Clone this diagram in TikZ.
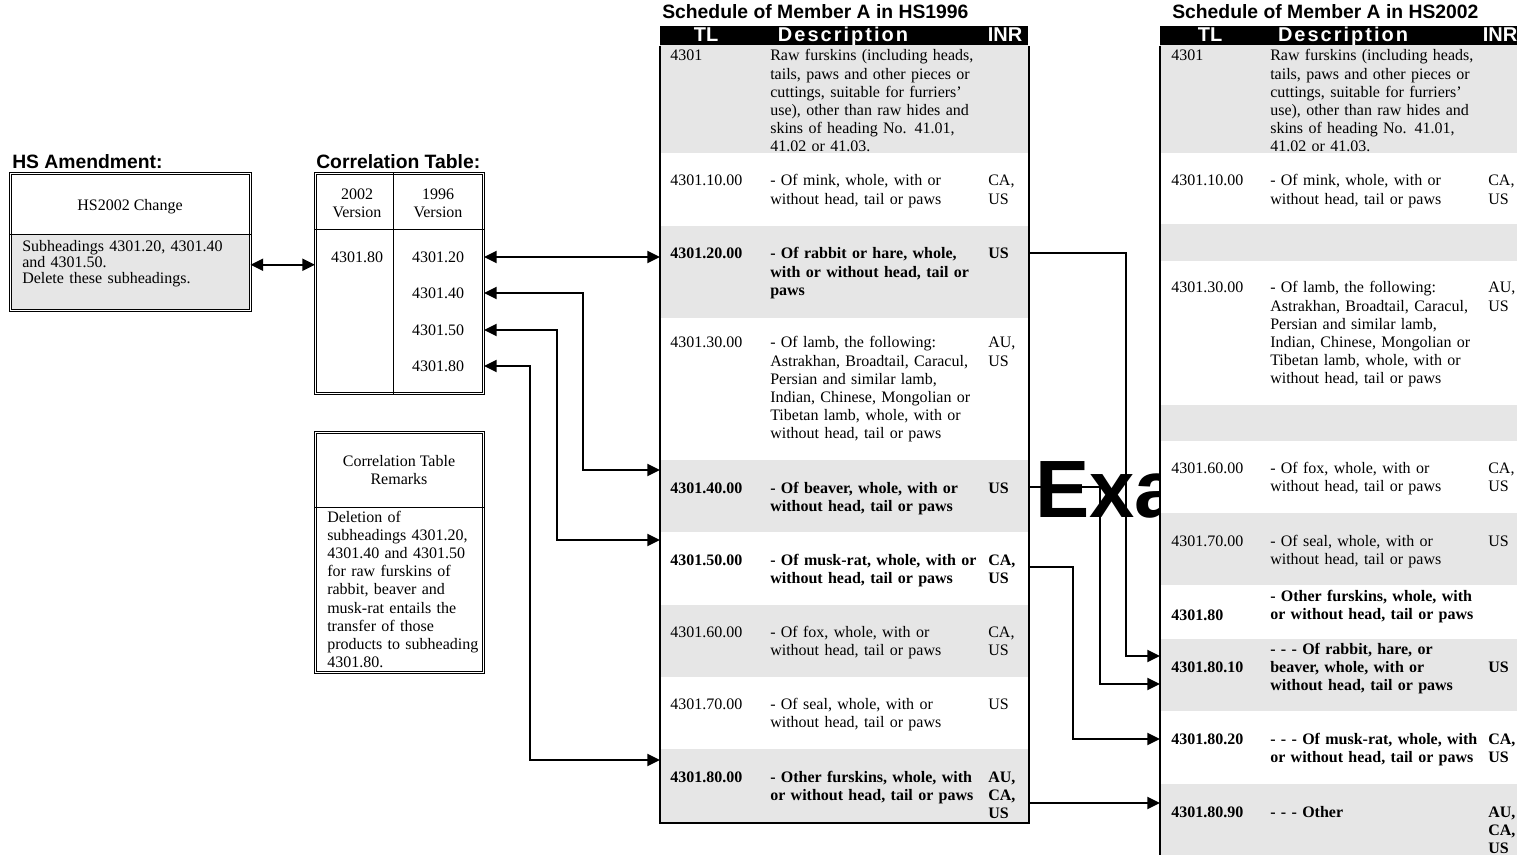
\documentclass[tikz,border=0pt]{standalone}
\usepackage{fontspec}
\setmainfont{Liberation Serif}
\newfontfamily\hdrfont{Liberation Sans}
\newfontfamily\hdrwide[LetterSpace=10]{Liberation Sans}
\usetikzlibrary{arrows.meta, positioning, calc}
\definecolor{rowgray}{RGB}{230,230,230}
\newcommand{\tabfont}{\fontsize{12}{13.65}\selectfont}
\tikzset{dbox/.style={draw, double, double distance=0.9pt, line width=0.75pt, inner sep=0pt, anchor=north west},
         tabrow/.style={inner sep=0pt, anchor=north west},
         txt/.style={anchor=base west, inner sep=0pt, align=left, text width=#1},
         txt/.default=165pt,
         bold/.style={font=\tabfont\bfseries},
         ttl/.style={anchor=base west, inner sep=0pt, font=\hdrfont\bfseries\fontsize{14.5}{16}\selectfont},
         hbar/.style={fill=black, inner sep=0pt, anchor=north west, minimum height=14.25pt},
         htxt/.style={text=white, inner sep=0pt, anchor=base, font=\hdrfont\bfseries\fontsize{15}{16}\selectfont},
         conn/.style={draw, line width=1.5pt},
         tabline/.style={draw, line width=1.5pt}}
\begin{document}
\begin{tikzpicture}[x=0.75pt, y=-0.75pt, font=\tabfont, >={Triangle[length=9.5pt, width=9pt]}]
    \useasboundingbox (0,0) rectangle (1517,855);
    \clip (0,0) rectangle (1517,855);

    % HS amendment box
    \node[ttl] (amendttl) at (12,169) {HS Amendment:};
    \node[tabrow, anchor=south west, fill=rowgray, minimum width=180pt, minimum height=56.25pt] (amendlow) at (10,310) {};
    \node[dbox, minimum width=180pt, minimum height=102.75pt] (amend) at (10,173) {};
    \draw (amendlow.north west) -- (amendlow.north east);
    \node (chg) at (130,207) {HS2002 Change};
    \node[txt=170pt, font=\fontsize{12}{12}\selectfont] (chgtxt) at (22,252) {Subheadings 4301.20, 4301.40\\ and 4301.50.\\ Delete these subheadings.};

    % correlation table
    \node[ttl] (corrttl) at (316,169) {Correlation Table:};
    \node[dbox, minimum width=126pt, minimum height=165pt] (corr) at (315,173) {};
    \draw ([xshift=58.5pt]corr.north west) -- ([xshift=58.5pt]corr.south west);
    \draw ([yshift=-42pt]corr.north west) -- ([yshift=-42pt]corr.north east);
    \node[align=center] (hd02) at (357,203) {2002\\ Version};
    \node[align=center] (hd96) at (438,203) {1996\\ Version};
    \node (n80) at (357,257) {4301.80};
    \node (c20) at (438,257) {4301.20};
    \node (c40) at (438,293) {4301.40};
    \node (c50) at (438,330) {4301.50};
    \node (c80) at (438,366) {4301.80};

    % remarks
    \node[dbox, minimum width=126pt, minimum height=180pt] (rmk) at (315,432) {};
    \draw ([yshift=-56.25pt]rmk.north west) -- ([yshift=-56.25pt]rmk.north east);
    \node[align=center] (rmkhd) at (399,470) {Correlation Table\\ Remarks};
    \node[txt=120pt] (rmktxt) at (327,522) {Deletion of\\ subheadings 4301.20,\\ 4301.40 and 4301.50\\ for raw furskins of\\ rabbit, beaver and\\ musk-rat entails the\\ transfer of those\\ products to subheading\\ 4301.80.};

    % schedule HS1996
    \node[ttl] (mttl) at (662,19) {Schedule of Member A in HS1996};
    \node[hbar, minimum width=276pt] (mhead) at (660,26) {};
    \node[htxt] (mhtl) at (706,42) {TL};
    \node[htxt, font=\hdrwide\bfseries\fontsize{15}{16}\selectfont] (mhds) at (843,42) {Description};
    \node[htxt] (mhin) at (1005,42) {INR};
    \node[tabrow, fill=rowgray, minimum width=276pt, minimum height=81pt] (m1) at (660,45) {};
    \node[tabrow, minimum width=276pt, minimum height=54.75pt] (m2) at (660,153) {};
    \node[tabrow, fill=rowgray, minimum width=276pt, minimum height=69pt] (m3) at (660,226) {};
    \node[tabrow, minimum width=276pt, minimum height=106.5pt] (m4) at (660,318) {};
    \node[tabrow, fill=rowgray, minimum width=276pt, minimum height=54pt] (m5) at (660,460) {};
    \node[tabrow, minimum width=276pt, minimum height=54.75pt] (m6) at (660,532) {};
    \node[tabrow, fill=rowgray, minimum width=276pt, minimum height=54pt] (m7) at (660,605) {};
    \node[tabrow, minimum width=276pt, minimum height=54pt] (m8) at (660,677) {};
    \node[tabrow, fill=rowgray, minimum width=276pt, minimum height=54.75pt] (m9) at (660,749) {};
    \draw[tabline] (mhead.south west) -- (m9.south west) -- (m9.south east) -- (mhead.south east);

    \node[txt=70pt] (m1tl) at (670,61) {4301};
    \node[txt] (m1ds) at (770,61) {Raw furskins (including heads,\\ tails, paws and other pieces or\\ cuttings, suitable for furriers'\\ use), other than raw hides and\\ skins of heading No. 41.01,\\ 41.02 or 41.03.};
    \node[txt=70pt] (m2tl) at (670,186) {4301.10.00};
    \node[txt] (m2ds) at (770,186) {- Of mink, whole, with or\\ without head, tail or paws};
    \node[txt=25pt] (m2in) at (988,186) {CA,\\ US};
    \node[txt=70pt, bold] (m3tl) at (670,259) {4301.20.00};
    \node[txt, bold] (m3ds) at (770,259) {- Of rabbit or hare, whole,\\ with or without head, tail or\\ paws};
    \node[txt=25pt, bold] (m3in) at (988,259) {US};
    \node[txt=70pt] (m4tl) at (670,348) {4301.30.00};
    \node[txt] (m4ds) at (770,348) {- Of lamb, the following:\\ Astrakhan, Broadtail, Caracul,\\ Persian and similar lamb,\\ Indian, Chinese, Mongolian or\\ Tibetan lamb, whole, with or\\ without head, tail or paws};
    \node[txt=25pt] (m4in) at (988,348) {AU,\\ US};
    \node[txt=70pt, bold] (m5tl) at (670,493) {4301.40.00};
    \node[txt, bold] (m5ds) at (770,493) {- Of beaver, whole, with or\\ without head, tail or paws};
    \node[txt=25pt, bold] (m5in) at (988,493) {US};
    \node[txt=70pt, bold] (m6tl) at (670,565) {4301.50.00};
    \node[txt, bold] (m6ds) at (770,565) {- Of musk-rat, whole, with or\\ without head, tail or paws};
    \node[txt=25pt, bold] (m6in) at (988,565) {CA,\\ US};
    \node[txt=70pt] (m7tl) at (670,637) {4301.60.00};
    \node[txt] (m7ds) at (770,637) {- Of fox, whole, with or\\ without head, tail or paws};
    \node[txt=25pt] (m7in) at (988,637) {CA,\\ US};
    \node[txt=70pt] (m8tl) at (670,709) {4301.70.00};
    \node[txt] (m8ds) at (770,709) {- Of seal, whole, with or\\ without head, tail or paws};
    \node[txt=25pt] (m8in) at (988,709) {US};
    \node[txt=70pt, bold] (m9tl) at (670,782) {4301.80.00};
    \node[txt, bold] (m9ds) at (770,782) {- Other furskins, whole, with\\ or without head, tail or paws};
    \node[txt=25pt, bold] (m9in) at (988,782) {AU,\\ CA,\\ US};

    % watermark, partly hidden by the HS2002 table
    \node[anchor=base west, inner sep=0pt, font=\hdrfont\bfseries\fontsize{61}{61}\selectfont] (wmark) at (1035,517) {Exa};

    % schedule HS2002
    \node[ttl] (rttl) at (1172,19) {Schedule of Member A in HS2002};
    \node[hbar, minimum width=277.5pt] (rhead) at (1160,26) {};
    \node[htxt] (rhtl) at (1210,42) {TL};
    \node[htxt, font=\hdrwide\bfseries\fontsize{15}{16}\selectfont] (rhds) at (1343,42) {Description};
    \node[htxt] (rhin) at (1500,42) {INR};
    \node[tabrow, fill=rowgray, minimum width=277.5pt, minimum height=81pt] (r1) at (1160,45) {};
    \node[tabrow, fill=white, minimum width=277.5pt, minimum height=53.25pt] (r2) at (1160,153) {};
    \node[tabrow, fill=rowgray, minimum width=277.5pt, minimum height=27.75pt] (r3) at (1160,224) {};
    \node[tabrow, fill=white, minimum width=277.5pt, minimum height=108pt] (r4) at (1160,261) {};
    \node[tabrow, fill=rowgray, minimum width=277.5pt, minimum height=27pt] (r5) at (1160,405) {};
    \node[tabrow, fill=white, minimum width=277.5pt, minimum height=54pt] (r6) at (1160,441) {};
    \node[tabrow, fill=rowgray, minimum width=277.5pt, minimum height=54pt] (r7) at (1160,513) {};
    \node[tabrow, fill=white, minimum width=277.5pt, minimum height=40.5pt] (r8) at (1160,585) {};
    \node[tabrow, fill=rowgray, minimum width=277.5pt, minimum height=54pt] (r9) at (1160,639) {};
    \node[tabrow, fill=white, minimum width=277.5pt, minimum height=54.75pt] (r10) at (1160,711) {};
    \node[tabrow, fill=rowgray, minimum width=277.5pt, minimum height=64.5pt] (r11) at (1160,784) {};
    \draw[tabline] (rhead.south west) -- (r11.south west);

    \node[txt=70pt] (r1tl) at (1171,61) {4301};
    \node[txt] (r1ds) at (1270,61) {Raw furskins (including heads,\\ tails, paws and other pieces or\\ cuttings, suitable for furriers'\\ use), other than raw hides and\\ skins of heading No. 41.01,\\ 41.02 or 41.03.};
    \node[txt=70pt] (r2tl) at (1171,186) {4301.10.00};
    \node[txt] (r2ds) at (1270,186) {- Of mink, whole, with or\\ without head, tail or paws};
    \node[txt=25pt] (r2in) at (1488,186) {CA,\\ US};
    \node[txt=70pt] (r4tl) at (1171,293) {4301.30.00};
    \node[txt] (r4ds) at (1270,293) {- Of lamb, the following:\\ Astrakhan, Broadtail, Caracul,\\ Persian and similar lamb,\\ Indian, Chinese, Mongolian or\\ Tibetan lamb, whole, with or\\ without head, tail or paws};
    \node[txt=25pt] (r4in) at (1488,293) {AU,\\ US};
    \node[txt=70pt] (r6tl) at (1171,473) {4301.60.00};
    \node[txt] (r6ds) at (1270,473) {- Of fox, whole, with or\\ without head, tail or paws};
    \node[txt=25pt] (r6in) at (1488,473) {CA,\\ US};
    \node[txt=70pt] (r7tl) at (1171,546) {4301.70.00};
    \node[txt] (r7ds) at (1270,546) {- Of seal, whole, with or\\ without head, tail or paws};
    \node[txt=25pt] (r7in) at (1488,546) {US};
    \node[txt=70pt, bold] (r8tl) at (1171,620) {4301.80};
    \node[txt, bold] (r8ds) at (1270,601) {- Other furskins, whole, with\\ or without head, tail or paws};
    \node[txt=70pt, bold] (r9tl) at (1171,672) {4301.80.10};
    \node[txt, bold] (r9ds) at (1270,654) {- - - Of rabbit, hare, or\\ beaver, whole, with or\\ without head, tail or paws};
    \node[txt=25pt, bold] (r9in) at (1488,672) {US};
    \node[txt=70pt, bold] (r10tl) at (1171,744) {4301.80.20};
    \node[txt, bold] (r10ds) at (1270,744) {- - - Of musk-rat, whole, with\\ or without head, tail or paws};
    \node[txt=25pt, bold] (r10in) at (1488,744) {CA,\\ US};
    \node[txt=70pt, bold] (r11tl) at (1171,817) {4301.80.90};
    \node[txt, bold] (r11ds) at (1270,817) {- - - Other};
    \node[txt=25pt, bold] (r11in) at (1488,817) {AU,\\ CA,\\ US};

    % links
    \coordinate (amendout) at ([yshift=5.6pt]amendlow.east);
    \coordinate (j40) at (583,470);
    \coordinate (j50) at (557,540);
    \coordinate (j80) at (530,760);
    \coordinate (k20) at (1126,656);
    \coordinate (k40) at (1100,684);
    \coordinate (k50) at (1073,739);
    \coordinate (k80) at (1100,803);
    \draw[conn, <->] (amendout) -- (amendout -| corr.west);
    \draw[conn, <->] (c20 -| corr.east) -- (c20 -| m3.west);
    \draw[conn, <->] (c40 -| corr.east) -| (j40) -- (j40 -| m5.west);
    \draw[conn, <->] (c50 -| corr.east) -| (j50) -- (j50 -| m6.west);
    \draw[conn, <->] (c80 -| corr.east) -| (j80) -- (j80 -| m9.west);
    \draw[conn, ->] ([yshift=-20.25pt]m3.north east) -| (k20) -- (k20 -| r9.west);
    \draw[conn, ->] ([yshift=-20.25pt]m5.north east) -| (k40) -- (k40 -| r9.west);
    \draw[conn, ->] ([yshift=-26.25pt]m6.north east) -| (k50) -- (k50 -| r10.west);
    \draw[conn, ->] (k80 -| m9.east) -- (k80 -| r11.west);
\end{tikzpicture}
\end{document}
